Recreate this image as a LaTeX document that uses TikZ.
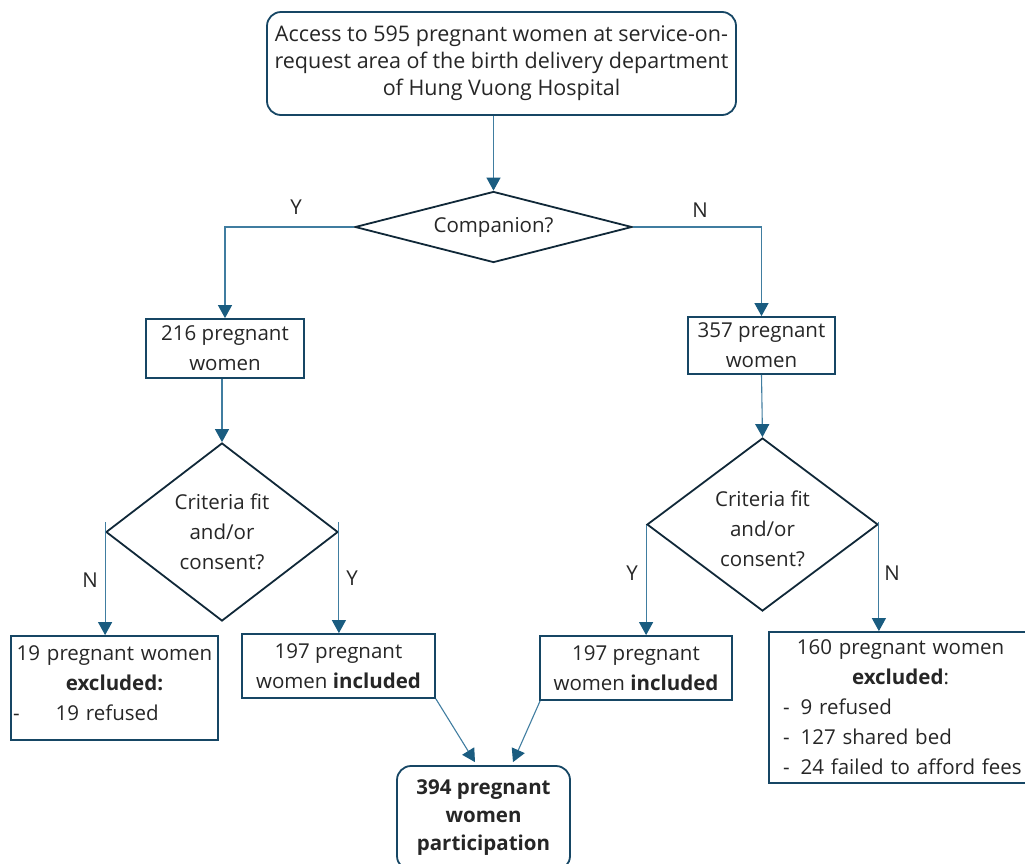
\documentclass[tikz,border=0pt]{standalone}
\usepackage{fontspec}
\setmainfont{Open Sans}[Ligatures=NoCommon]
\usetikzlibrary{shapes.geometric,arrows.meta,calc}
\definecolor{boxc}{RGB}{22,70,100}
\definecolor{diac}{RGB}{16,40,56}
\definecolor{linec}{RGB}{64,125,160}
\definecolor{headc}{RGB}{26,92,128}
\definecolor{txtc}{RGB}{38,38,38}
\begin{document}
\begin{tikzpicture}[x=1pt,y=-1pt,
  every node/.style={text=txtc, font=\fontsize{20.5}{30}\selectfont},
  box/.style={draw=boxc, line width=1.8pt, inner sep=0pt, align=center},
  rbox/.style={box, rounded corners=14pt},
  dia/.style={draw=diac, line width=1.8pt, diamond, inner sep=0pt, align=center},
  conn/.style={draw=linec, line width=1.1pt, -{Triangle[width=14pt,length=13pt,color=headc]}},
  lab/.style={inner sep=0pt}
]
\useasboundingbox (0,0) rectangle (1025,863);

\node[rbox, minimum width=469pt, minimum height=103pt, font=\fontsize{21.5}{27}\selectfont] (top) at (501.5,63.5)
  {Access to 595 pregnant women at service-on-\\request area of the birth delivery department\\of Hung Vuong Hospital};
\node[dia, minimum width=277pt, minimum height=71pt, aspect=3.9] (comp) at (493.5,227) {Companion?};
\node[box, minimum width=158pt, minimum height=59pt] (b216) at (225,348.5) {216 pregnant\\women};
\node[box, minimum width=147pt, minimum height=57pt] (b357) at (761.5,345.5) {357 pregnant\\women};
\node[dia, minimum width=232pt, minimum height=178pt, aspect=1.3] (cl) at (222,532) {Criteria fit\\and/or\\consent?};
\node[dia, minimum width=231pt, minimum height=173pt, aspect=1.3] (cr) at (762.5,524.5) {\rule{0pt}{25pt}Criteria fit\\and/or\\consent?};
\node[box, minimum width=207pt, minimum height=104pt, text width=203pt] (b19) at (114.5,688)
  {19 pregnant women\\\textbf{excluded:}\\\makebox[\linewidth][l]{-\hspace{36pt}19 refused}\\[-20pt]\mbox{}};
\node[box, minimum width=193pt, minimum height=64pt] (b197L) at (338.5,666) {197 pregnant\\women \textbf{included}};
\node[box, minimum width=192pt, minimum height=64pt] (b197R) at (636,668) {197 pregnant\\women \textbf{included}};
\node[box, minimum width=263pt, minimum height=151pt, text width=255pt] (b160) at (900.5,707.5)
  {160 pregnant women\\\textbf{excluded}:\\
   \makebox[\linewidth][l]{\hspace{10pt}-\hspace{11pt}9 refused}\\
   \makebox[\linewidth][l]{\hspace{10pt}-\hspace{11pt}127 shared bed}\\
   \makebox[\linewidth][l]{\hspace{10pt}-\hspace{11pt}24 failed to afford fees}};
\node[rbox, minimum width=173pt, minimum height=104pt, font=\fontsize{20.5}{28}\selectfont\bfseries] (final) at (483.5,818)
  {394 pregnant\\women\\participation};

\node[lab] (ly1) at (296,207) {Y};
\node[lab] (ln1) at (700,210) {N};
\node[lab] (ln2) at (90,580) {N};
\node[lab] (ly2) at (352,578) {Y};
\node[lab] (ly3) at (632,573) {Y};
\node[lab] (ln3) at (892,573) {N};

\draw[conn] (top.south -| comp.north) -- (comp.north);
\draw[conn] (comp.west) -| (b216.north);
\draw[conn] (comp.east) -| (b357.north);
\draw[conn] (b216.south -| cl.north) -- (cl.north);
\draw[conn] (b357.south) -- (cr.north);
\draw[conn] ($(cl.west)+(0,-10)$) -- (cl.west |- b19.north);
\draw[conn] ($(cl.east)+(0,-10)$) -- (cl.east |- b197L.north);
\draw[conn] (cr.west) -- (cr.west |- b197R.north);
\draw[conn] ($(cr.east)+(0,-3)$) -- (cr.east |- b160.north);
\draw[conn] (b197L.south east) -- ($(final.north)+(-8.5,-3)$);
\draw[conn] ($(b197R.south west)+(1,0)$) -- ($(final.north)+(29.5,-3)$);
\end{tikzpicture}
\end{document}
